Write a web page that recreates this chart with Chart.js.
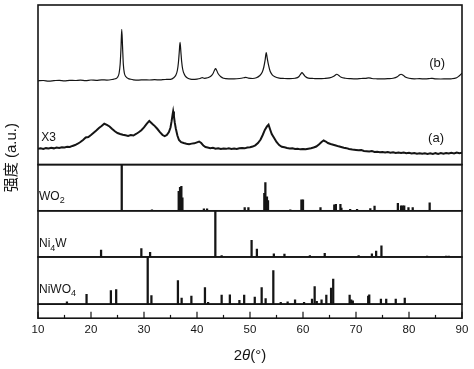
<!DOCTYPE html>
<html>
<head>
<meta charset="utf-8">
<script src="https://cdn.jsdelivr.net/npm/chart.js@4.4.1/dist/chart.umd.min.js"></script>
<style>
  html, body { margin: 0; padding: 0; background: #fff; }
  #wrap { width: 474px; height: 369px; }
</style>
</head>
<body>
<div id="wrap"><canvas id="myChart"></canvas></div>
<script>
// XRD curves (intensity in a.u., already offset for stacking)
const thetaB = [10,11,12,13,14,15,16,17,18,19,20,21,22,23,24,24.6,25,25.3,25.5,25.65,25.8,25.95,26.1,26.3,26.6,27,27.5,28,29,30,31,32,33,34,35,35.6,36,36.3,36.5,36.65,36.8,36.95,37.1,37.3,37.6,38,38.5,39,40,40.6,41,41.4,42,42.6,43,43.3,43.5,43.7,44,44.5,45,46,47,48,48.8,49.2,49.7,50.5,51.2,51.8,52.3,52.6,52.85,53.06,53.25,53.5,53.8,54.2,54.7,55.5,56.5,57.5,58.5,59.2,59.6,59.8,60.1,60.5,61,62,63,64,65,65.8,66.2,66.4,66.7,67.2,68,69,70,71,71.8,72.4,73,74,75,76,77,77.8,78.2,78.5,78.9,79.4,80,81,82,83,84,84.4,85,86,87,88,89,89.5,90];
const countsB = [83.5,83.8,83.2,83.6,84,83.5,84,83.8,84.2,83.7,84.3,84,84.5,84.2,84.8,85.5,87,91,100,115,134.7,118,100,91,87.5,85.8,85,84.5,84.2,84.5,84.3,84.6,84.4,84.8,85,86.5,89,94,102,112,121.7,113,103,95,90,87,85.5,85,85.2,85.8,86.7,86,86.5,88,90.5,94,95.7,94,90.5,87.5,86,85.5,85.5,85.8,86.5,87,86.2,85.8,86.5,88.5,92,97,104,111.7,106,99,93,89.5,87.5,86.2,85.8,85.6,86,87.5,90.5,91.7,90,87.5,86.2,85.8,85.6,85.8,86.4,88,89.5,90,89,87,86,85.6,85.4,85.8,86,86.5,85.8,85.5,85.4,85.6,86,87.5,89.2,90,89,87,86,85.5,85.6,85.4,85.8,86,85.4,85.3,85.4,85.5,86.5,88.5,91];

const thetaA = [10,10.5,11,11.5,12,12.5,13,13.5,14,14.5,15,15.5,16,16.5,17,17.5,18,18.5,19,19.5,20,20.5,21,21.5,22,22.5,23,23.5,24,24.5,25,25.5,26,26.5,27,27.5,28,28.5,29,29.5,30,30.5,31,31.3,31.7,32,32.5,33,33.5,33.9,34.3,34.7,35,35.2,35.4,35.5,35.65,35.8,36,36.3,36.6,37,37.5,38,38.5,39,39.5,40,40.4,40.8,41.2,41.6,42,42.5,43,43.5,44,44.5,45,45.5,46,46.5,47,47.5,48,48.5,49,49.5,50,50.5,51,51.5,52,52.4,52.8,53.2,53.5,53.8,54.1,54.5,55,55.5,56,56.5,57,57.5,58,58.5,59,59.5,60,60.5,61,61.5,62,62.5,63,63.5,63.9,64.3,64.7,65.2,65.7,66.2,66.7,67.2,67.7,68.2,68.7,69.3,70,70.5,71,71.5,72,72.5,73,73.5,74,74.5,75,75.5,76,76.5,77,77.5,78,78.5,79,79.5,80,80.5,81,81.5,82,82.5,83,83.5,84,84.5,85,85.5,86,86.5,87,87.5,88,88.5,89,89.5,90];
const countsA = [15.7,16.2,15.5,16.4,16,16.8,16.2,17,16.6,17.3,17,17.8,17.5,18.6,19.5,20.8,22.5,24.6,27,27.5,29.5,31.8,34,36.5,38.5,40.7,39.6,38,35.5,33.2,31.5,30.5,29.8,29.2,28.6,29.4,29,30.5,32.2,34.3,37,40.5,43.5,42,40,38.6,35.7,32.4,29.5,28.3,29.5,32.5,37,43,50,53,48,42,36,29,24.5,22.3,21.5,20.8,20.3,20.9,21.2,22.2,23,21.5,19,17.5,17,16.4,16.8,15.8,16.2,15.5,16,15.7,16.3,15.6,16,15.5,16.2,16.5,16.2,17,17.3,18,19.2,21.5,25,29.5,34.5,38,39.7,35,30.5,27,22.5,19.5,17.8,17.2,16.5,16,16.3,15.5,15.8,15.2,15.5,15.3,15.9,16.3,17,18,20,22.5,24,23,21.5,20.5,19.8,19,18.2,17.5,16.8,16.4,15.6,15,14.6,14.2,14.5,13.6,13.4,13,13.5,12.6,12.9,12.3,12.6,12,12.5,11.8,12.3,11.6,12,11.5,12.1,11.3,11.8,11,11.6,10.9,11.4,10.8,11.3,10.6,11.2,10.5,11.4,10.7,11.5,10.8,11.6,11,11.8,11.2,12,11.4,11.7];

// reference patterns (relative intensity %)
const wo2Pos = [25.8,31.5,36.55,36.8,37.05,37.25,41.3,41.9,49.0,49.7,52.7,52.9,53.2,53.4,57.6,59.7,60.0,63.3,65.9,66.2,67.06,67.25,68.9,70.2,72.7,73.5,77.9,78.5,78.8,79.1,79.9,80.7,83.9];
const wo2Int = [100,2,42,51,53,28,4,4,7,7,38,61,30,22,2,24,24,7,13,14,14,6,3,3,5,10,16,11,11,11,7,7,17];

const ni4wPos = [21.9,29.5,31.15,43.46,44.65,50.3,51.3,54.5,56.5,61.3,64.1,70.5,73.0,73.8,74.8,83.4,87.0,87.5];
const ni4wInt = [15,18,10,100,3,36,17,7,6,3,8,3,7,13,24,2,2,2];

const niwo4Pos = [15.46,19.16,23.75,24.75,30.7,31.4,36.4,37.1,38.94,41.5,42.1,44.65,46.2,48.0,48.9,50.9,52.2,52.95,54.4,55.8,57.1,58.5,60.2,61.7,62.2,62.6,63.5,64.4,65.3,65.7,68.8,69.1,69.4,72.3,72.5,74.7,75.7,77.5,79.2];
const niwo4Int = [5,21,29,31,100,18,50,13,17,35,4,19,20,8,19,15,35,12,71,4,5,9,4,11,37,6,9,19,34,53,19,9,7,17,20,11,11,11,13];

const xLabels = [10,20,30,40,50,60,70,80,90];
const tickMarks = [10,15,20,25,30,35,40,45,50,55,60,65,70,75,80,85,90];

const ink = '#151515';
const fontFam = 'Arial, "Liberation Sans", Helvetica, sans-serif';

function pairs(xs, ys) {
    return xs.map((x, i) => ({x: x, y: ys[i]}));
}

function stickSet(xs, ys, axis) {
    return {
        type: 'bar',
        data: pairs(xs, ys),
        yAxisID: axis,
        backgroundColor: ink,
        barThickness: 1.6,
        grouped: false,
        borderWidth: 0
    };
}

function panelAxis(max, weight) {
    return {
        type: 'linear', min: 0, max: max,
        stack: 'panels', stackWeight: weight,
        ticks: {display: false},
        grid: {display: false, drawTicks: false},
        border: {display: false}
    };
}

// draws a label with optional subscript pieces
function richText(ctx, parts, x, y) {
    let cx = x;
    parts.forEach(p => {
        ctx.font = (p.sub ? '9px ' : '12px ') + fontFam;
        ctx.fillText(p.t, cx, p.sub ? y + 4 : y);
        cx += ctx.measureText(p.t).width;
    });
}

const panelIds = ['yXrd', 'yWO2', 'yNi4W', 'yNiWO4', 'yStrip'];

const framePlugin = {
    id: 'frames',
    afterDatasetsDraw(chart) {
        const ctx = chart.ctx;
        const area = chart.chartArea;
        const sx = chart.scales.x;
        ctx.save();
        ctx.strokeStyle = ink;
        ctx.lineWidth = 1.6;
        panelIds.forEach(id => {
            const s = chart.scales[id];
            ctx.strokeRect(area.left, s.top, area.right - area.left, s.bottom - s.top);
        });
        // inward tick marks on the bottom axis
        ctx.lineWidth = 1.2;
        tickMarks.forEach(v => {
            const px = sx.getPixelForValue(v);
            const len = v % 10 === 0 ? 6.5 : 3.3;
            ctx.beginPath();
            ctx.moveTo(px, area.bottom);
            ctx.lineTo(px, area.bottom - len);
            ctx.stroke();
        });

        ctx.fillStyle = ink;
        ctx.textBaseline = 'middle';
        const yx = chart.scales.yXrd;
        ctx.textAlign = 'center';
        ctx.font = '13px ' + fontFam;
        ctx.fillText('(b)', sx.getPixelForValue(85.3), yx.getPixelForValue(101));
        ctx.fillText('(a)', sx.getPixelForValue(85.1), yx.getPixelForValue(26));
        ctx.textAlign = 'left';
        ctx.font = '12px ' + fontFam;
        ctx.fillText('X3', sx.getPixelForValue(10.6), yx.getPixelForValue(27));

        richText(ctx, [{t: 'WO'}, {t: '2', sub: true}], area.left + 1, chart.scales.yWO2.getPixelForValue(30));
        richText(ctx, [{t: 'Ni'}, {t: '4', sub: true}, {t: 'W'}], area.left + 1, chart.scales.yNi4W.getPixelForValue(28));
        richText(ctx, [{t: 'NiWO'}, {t: '4', sub: true}], area.left + 1, chart.scales.yNiWO4.getPixelForValue(30));

        // y title
        ctx.save();
        ctx.translate(12, (area.top + area.bottom) / 2 - 4);
        ctx.rotate(-Math.PI / 2);
        ctx.textAlign = 'center';
        ctx.font = '15px ' + fontFam + ', "Noto Sans CJK SC"';
        ctx.fillText('强度 (a.u.)', 0, 0);
        ctx.restore();

        // x title: 2θ(°) with italic theta
        const pieces = [
            {t: '2', f: '15px ' + fontFam},
            {t: 'θ', f: 'italic 15px ' + fontFam},
            {t: '(°)', f: '15px ' + fontFam}
        ];
        let total = 0;
        pieces.forEach(p => { ctx.font = p.f; total += ctx.measureText(p.t).width; });
        let cx = (area.left + area.right) / 2 - total / 2;
        ctx.textAlign = 'left';
        pieces.forEach(p => {
            ctx.font = p.f;
            ctx.fillText(p.t, cx, 356);
            cx += ctx.measureText(p.t).width;
        });
        ctx.restore();
    }
};

const ctx = document.getElementById('myChart');
const cht = new Chart(ctx, {
    type: 'line',
    data: {
        datasets: [
            {
                data: pairs(thetaB, countsB), yAxisID: 'yXrd',
                borderColor: ink, borderWidth: 1.2, pointRadius: 0,
                cubicInterpolationMode: 'monotone'
            },
            {
                data: pairs(thetaA, countsA), yAxisID: 'yXrd',
                borderColor: ink, borderWidth: 2, pointRadius: 0, tension: 0
            },
            stickSet(wo2Pos, wo2Int, 'yWO2'),
            stickSet(ni4wPos, ni4wInt, 'yNi4W'),
            stickSet(niwo4Pos, niwo4Int, 'yNiWO4')
        ]
    },
    options: {
        responsive: true,
        maintainAspectRatio: false,
        animation: false,
        events: [],
        layout: {padding: {top: 5, left: 38, right: 12, bottom: 27}},
        plugins: {legend: {display: false}, tooltip: {enabled: false}},
        scales: {
            x: {
                type: 'linear', min: 10, max: 90, offset: false,
                grid: {display: false, drawTicks: false},
                border: {display: false},
                afterBuildTicks: (scale) => { scale.ticks = xLabels.map(v => ({value: v})); },
                ticks: {padding: 5, color: ink, font: {size: 11.5, family: fontFam}}
            },
            // stacked panels: the last one listed is drawn on top
            yStrip: panelAxis(1, 14),
            yNiWO4: panelAxis(100, 47),
            yNi4W: panelAxis(100, 46),
            yWO2: panelAxis(100, 46),
            yXrd: panelAxis(159, 159)
        }
    },
    plugins: [framePlugin]
});
</script>
</body>
</html>
